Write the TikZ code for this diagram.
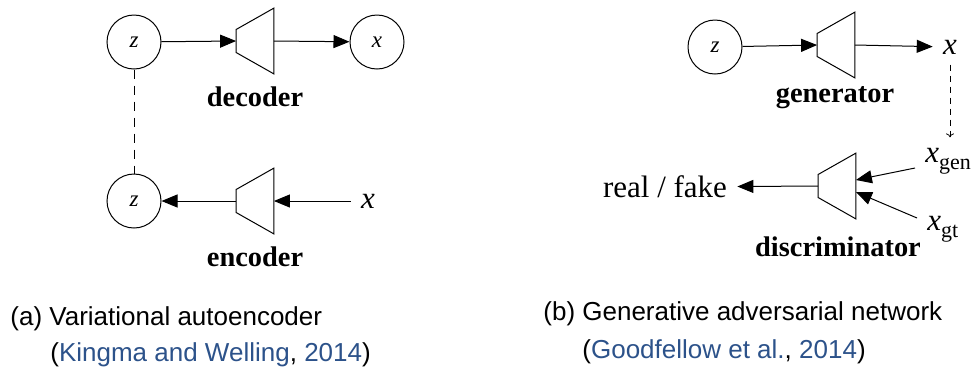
\documentclass[tikz,border=0pt]{standalone}
\usepackage{fontspec}
\setmainfont{Liberation Serif}
\setsansfont{Liberation Sans}
\usepackage{tikz}
\usetikzlibrary{arrows.meta,positioning,calc}
\definecolor{CiteBlue}{RGB}{44,82,138}

\begin{document}
\begin{tikzpicture}[x=0.5pt,y=-0.5pt,
  var/.style={draw,circle,minimum size=27pt,inner sep=0pt,line width=0.5pt,font=\fontsize{11.5}{13}\selectfont\itshape},
  net/.style={minimum width=18.5pt,minimum height=32.5pt,inner sep=0pt,
    append after command={\pgfextra{\draw[line width=0.5pt,line join=miter]
      (\tikzlastnode.north east)--(\tikzlastnode.south east)--([yshift=-5.75pt]\tikzlastnode.west)--([yshift=5.75pt]\tikzlastnode.west)--cycle;}}},
  lbl/.style={font=\fontsize{14.2}{16}\selectfont\bfseries},
  sym/.style={inner sep=5pt,font=\fontsize{15.5}{17}\selectfont},
  captext/.style={anchor=base west,inner sep=0pt,font=\sffamily\fontsize{13}{15}\selectfont},
  arrow/.style={-{Triangle[length=8pt,width=6.5pt]},line width=0.5pt}]
  \useasboundingbox (0,0) rectangle (974,371);
  % (a) variational autoencoder
  \node[var] (zdec) at (134,42) {z};
  \node[net] (dec) at (255,41) {};
  \node[var] (xdec) at (377,42) {x};
  \node[lbl] (declbl) at (255,97) {decoder};
  \node[var] (zenc) at (134,201) {z};
  \node[net] (enc) at (255,201) {};
  \node[sym] (xenc) at (368,201) {\textit{x}};
  \node[lbl] (enclbl) at (255,257) {encoder};
  \draw[arrow] (zdec)--(dec.west);
  \draw[arrow] (dec.east)--(xdec);
  \draw[arrow] (xenc)--(enc.east);
  \draw[arrow] (enc.west)--(zenc);
  \draw[line width=0.5pt,dash pattern=on 4.5pt off 3.5pt] (zdec)--(zenc);
  % (b) generative adversarial network
  \node[var] (zgen) at (715,47) {z};
  \node[net] (gen) at (836,45) {};
  \node[sym] (xout) at (950,47) {\textit{x}};
  \node[lbl] (genlbl) at (835,98) {generator};
  \node[net] (disc) at (837,186) {};
  \node[sym] (real) at (665,187) {real / fake};
  \node[sym,anchor=base west] (xgen) at (915,162) {\textit{x}\raisebox{-0.5ex}{\fontsize{11}{13}\selectfont gen}};
  \node[sym,anchor=base west] (xgt) at (917,230) {\textit{x}\raisebox{-0.5ex}{\fontsize{11}{13}\selectfont gt}};
  \node[lbl] (disclbl) at (838,247) {discriminator};
  \draw[arrow] (zgen)--(gen.west);
  \draw[arrow] (gen.east)--(xout);
  \draw[-{To[length=2pt,width=4pt]},line width=0.4pt,dash pattern=on 3pt off 2.5pt] (xout.south)--(xout.south|-xgen.north);
  \draw[arrow] ([yshift=-3pt]xgen.base west)--([yshift=3pt]disc.east);
  \draw[arrow] ([yshift=6pt]xgt.base west)--([yshift=-3pt]disc.east);
  \draw[arrow] (disc.west)--(real);
  % captions
  \node[captext] (capa) at (10,325) {(a) Variational autoencoder};
  \node[captext] (citea) at (50,361) {(\textcolor{CiteBlue}{Kingma and Welling}, \textcolor{CiteBlue}{2014})};
  \node[captext] (capb) at (543,320) {(b) Generative adversarial network};
  \node[captext] (citeb) at (582,358) {(\textcolor{CiteBlue}{Goodfellow et al.}, \textcolor{CiteBlue}{2014})};
\end{tikzpicture}
\end{document}
